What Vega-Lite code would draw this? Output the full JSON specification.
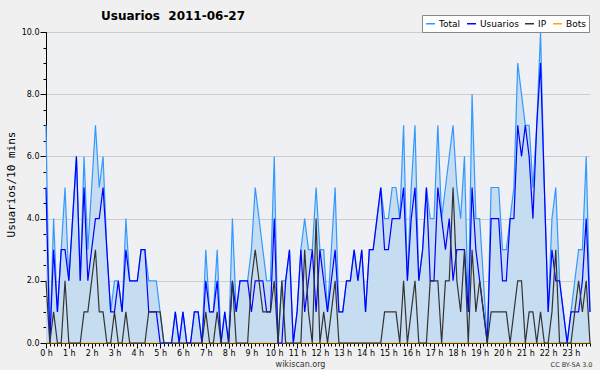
{
"$schema":"https://vega.github.io/schema/vega-lite/v6.json",
"width":544,"height":311,
"autosize":"none",
"padding":{"left":46,"top":32,"right":10,"bottom":27},
"background":"#f0f0f0",
"config":{"view":{"fill":"#eef0f3","stroke":null},"font":"DejaVu Sans"},
"title":{"text":"Usuarios \u00a02011-06-27","anchor":"start","frame":"group","dx":55,"dy":17,"offset":9,"fontSize":12,"font":"DejaVu Sans","fontWeight":"bold","color":"#000000"},
"data":{"values":[
{"m":0,"Total":7,"Usuarios":5,"IP":2,"Bots":0},
{"m":10,"Total":0,"Usuarios":0,"IP":0,"Bots":0},
{"m":20,"Total":4,"Usuarios":3,"IP":1,"Bots":0},
{"m":30,"Total":1,"Usuarios":1,"IP":0,"Bots":0},
{"m":40,"Total":3,"Usuarios":3,"IP":0,"Bots":0},
{"m":50,"Total":5,"Usuarios":3,"IP":2,"Bots":0},
{"m":60,"Total":2,"Usuarios":2,"IP":0,"Bots":0},
{"m":70,"Total":4,"Usuarios":4,"IP":0,"Bots":0},
{"m":80,"Total":6,"Usuarios":6,"IP":0,"Bots":0},
{"m":90,"Total":2,"Usuarios":2,"IP":0,"Bots":0},
{"m":100,"Total":6,"Usuarios":5,"IP":1,"Bots":0},
{"m":110,"Total":3,"Usuarios":2,"IP":1,"Bots":0},
{"m":120,"Total":5,"Usuarios":3,"IP":2,"Bots":0},
{"m":130,"Total":7,"Usuarios":4,"IP":3,"Bots":0},
{"m":140,"Total":5,"Usuarios":4,"IP":1,"Bots":0},
{"m":150,"Total":6,"Usuarios":5,"IP":1,"Bots":0},
{"m":160,"Total":3,"Usuarios":3,"IP":0,"Bots":0},
{"m":170,"Total":1,"Usuarios":1,"IP":0,"Bots":0},
{"m":180,"Total":2,"Usuarios":1,"IP":1,"Bots":0},
{"m":190,"Total":2,"Usuarios":2,"IP":0,"Bots":0},
{"m":200,"Total":1,"Usuarios":1,"IP":0,"Bots":0},
{"m":210,"Total":4,"Usuarios":3,"IP":1,"Bots":0},
{"m":220,"Total":2,"Usuarios":2,"IP":0,"Bots":0},
{"m":230,"Total":2,"Usuarios":2,"IP":0,"Bots":0},
{"m":240,"Total":2,"Usuarios":2,"IP":0,"Bots":0},
{"m":250,"Total":3,"Usuarios":3,"IP":0,"Bots":0},
{"m":260,"Total":3,"Usuarios":3,"IP":0,"Bots":0},
{"m":270,"Total":2,"Usuarios":1,"IP":1,"Bots":0},
{"m":280,"Total":2,"Usuarios":1,"IP":1,"Bots":0},
{"m":290,"Total":2,"Usuarios":1,"IP":1,"Bots":0},
{"m":300,"Total":1,"Usuarios":0,"IP":1,"Bots":0},
{"m":310,"Total":0,"Usuarios":0,"IP":0,"Bots":0},
{"m":320,"Total":0,"Usuarios":0,"IP":0,"Bots":0},
{"m":330,"Total":0,"Usuarios":0,"IP":0,"Bots":0},
{"m":340,"Total":1,"Usuarios":1,"IP":0,"Bots":0},
{"m":350,"Total":0,"Usuarios":0,"IP":0,"Bots":0},
{"m":360,"Total":1,"Usuarios":1,"IP":0,"Bots":0},
{"m":370,"Total":0,"Usuarios":0,"IP":0,"Bots":0},
{"m":380,"Total":0,"Usuarios":0,"IP":0,"Bots":0},
{"m":390,"Total":1,"Usuarios":1,"IP":0,"Bots":0},
{"m":400,"Total":1,"Usuarios":1,"IP":0,"Bots":0},
{"m":410,"Total":0,"Usuarios":0,"IP":0,"Bots":0},
{"m":420,"Total":3,"Usuarios":2,"IP":1,"Bots":0},
{"m":430,"Total":1,"Usuarios":1,"IP":0,"Bots":0},
{"m":440,"Total":1,"Usuarios":1,"IP":0,"Bots":0},
{"m":450,"Total":3,"Usuarios":2,"IP":1,"Bots":0},
{"m":460,"Total":0,"Usuarios":0,"IP":0,"Bots":0},
{"m":470,"Total":1,"Usuarios":1,"IP":0,"Bots":0},
{"m":480,"Total":0,"Usuarios":0,"IP":0,"Bots":0},
{"m":490,"Total":4,"Usuarios":2,"IP":2,"Bots":0},
{"m":500,"Total":1,"Usuarios":1,"IP":0,"Bots":0},
{"m":510,"Total":2,"Usuarios":2,"IP":0,"Bots":0},
{"m":520,"Total":2,"Usuarios":2,"IP":0,"Bots":0},
{"m":530,"Total":2,"Usuarios":2,"IP":0,"Bots":0},
{"m":540,"Total":3,"Usuarios":1,"IP":2,"Bots":0},
{"m":550,"Total":5,"Usuarios":2,"IP":3,"Bots":0},
{"m":560,"Total":4,"Usuarios":2,"IP":2,"Bots":0},
{"m":570,"Total":3,"Usuarios":2,"IP":1,"Bots":0},
{"m":580,"Total":2,"Usuarios":1,"IP":1,"Bots":0},
{"m":590,"Total":2,"Usuarios":1,"IP":1,"Bots":0},
{"m":600,"Total":6,"Usuarios":4,"IP":2,"Bots":0},
{"m":610,"Total":0,"Usuarios":0,"IP":0,"Bots":0},
{"m":620,"Total":2,"Usuarios":0,"IP":2,"Bots":0},
{"m":630,"Total":2,"Usuarios":2,"IP":0,"Bots":0},
{"m":640,"Total":3,"Usuarios":3,"IP":0,"Bots":0},
{"m":650,"Total":0,"Usuarios":0,"IP":0,"Bots":0},
{"m":660,"Total":1,"Usuarios":1,"IP":0,"Bots":0},
{"m":670,"Total":3,"Usuarios":3,"IP":0,"Bots":0},
{"m":680,"Total":4,"Usuarios":1,"IP":3,"Bots":0},
{"m":690,"Total":3,"Usuarios":2,"IP":1,"Bots":0},
{"m":700,"Total":3,"Usuarios":3,"IP":0,"Bots":0},
{"m":710,"Total":5,"Usuarios":1,"IP":4,"Bots":0},
{"m":720,"Total":3,"Usuarios":3,"IP":0,"Bots":0},
{"m":730,"Total":3,"Usuarios":2,"IP":1,"Bots":0},
{"m":740,"Total":1,"Usuarios":1,"IP":0,"Bots":0},
{"m":750,"Total":3,"Usuarios":2,"IP":1,"Bots":0},
{"m":760,"Total":5,"Usuarios":3,"IP":2,"Bots":0},
{"m":770,"Total":1,"Usuarios":1,"IP":0,"Bots":0},
{"m":780,"Total":1,"Usuarios":1,"IP":0,"Bots":0},
{"m":790,"Total":2,"Usuarios":2,"IP":0,"Bots":0},
{"m":800,"Total":2,"Usuarios":2,"IP":0,"Bots":0},
{"m":810,"Total":3,"Usuarios":3,"IP":0,"Bots":0},
{"m":820,"Total":2,"Usuarios":2,"IP":0,"Bots":0},
{"m":830,"Total":3,"Usuarios":3,"IP":0,"Bots":0},
{"m":840,"Total":1,"Usuarios":1,"IP":0,"Bots":0},
{"m":850,"Total":3,"Usuarios":3,"IP":0,"Bots":0},
{"m":860,"Total":3,"Usuarios":3,"IP":0,"Bots":0},
{"m":870,"Total":4,"Usuarios":4,"IP":0,"Bots":0},
{"m":880,"Total":5,"Usuarios":5,"IP":0,"Bots":0},
{"m":890,"Total":4,"Usuarios":3,"IP":1,"Bots":0},
{"m":900,"Total":4,"Usuarios":3,"IP":1,"Bots":0},
{"m":910,"Total":5,"Usuarios":4,"IP":1,"Bots":0},
{"m":920,"Total":5,"Usuarios":4,"IP":1,"Bots":0},
{"m":930,"Total":4,"Usuarios":4,"IP":0,"Bots":0},
{"m":940,"Total":7,"Usuarios":5,"IP":2,"Bots":0},
{"m":950,"Total":2,"Usuarios":2,"IP":0,"Bots":0},
{"m":960,"Total":5,"Usuarios":4,"IP":1,"Bots":0},
{"m":970,"Total":7,"Usuarios":5,"IP":2,"Bots":0},
{"m":980,"Total":2,"Usuarios":2,"IP":0,"Bots":0},
{"m":990,"Total":3,"Usuarios":3,"IP":0,"Bots":0},
{"m":1000,"Total":5,"Usuarios":5,"IP":0,"Bots":0},
{"m":1010,"Total":4,"Usuarios":2,"IP":2,"Bots":0},
{"m":1020,"Total":4,"Usuarios":2,"IP":2,"Bots":0},
{"m":1030,"Total":7,"Usuarios":5,"IP":2,"Bots":0},
{"m":1040,"Total":4,"Usuarios":4,"IP":0,"Bots":0},
{"m":1050,"Total":5,"Usuarios":3,"IP":2,"Bots":0},
{"m":1060,"Total":6,"Usuarios":4,"IP":2,"Bots":0},
{"m":1070,"Total":7,"Usuarios":2,"IP":5,"Bots":0},
{"m":1080,"Total":5,"Usuarios":3,"IP":2,"Bots":0},
{"m":1090,"Total":4,"Usuarios":3,"IP":1,"Bots":0},
{"m":1100,"Total":6,"Usuarios":3,"IP":3,"Bots":0},
{"m":1110,"Total":1,"Usuarios":1,"IP":0,"Bots":0},
{"m":1120,"Total":8,"Usuarios":5,"IP":3,"Bots":0},
{"m":1130,"Total":4,"Usuarios":3,"IP":1,"Bots":0},
{"m":1140,"Total":4,"Usuarios":2,"IP":2,"Bots":0},
{"m":1150,"Total":2,"Usuarios":1,"IP":1,"Bots":0},
{"m":1160,"Total":0,"Usuarios":0,"IP":0,"Bots":0},
{"m":1170,"Total":5,"Usuarios":4,"IP":1,"Bots":0},
{"m":1180,"Total":5,"Usuarios":4,"IP":1,"Bots":0},
{"m":1190,"Total":5,"Usuarios":4,"IP":1,"Bots":0},
{"m":1200,"Total":3,"Usuarios":2,"IP":1,"Bots":0},
{"m":1210,"Total":3,"Usuarios":2,"IP":1,"Bots":0},
{"m":1220,"Total":4,"Usuarios":4,"IP":0,"Bots":0},
{"m":1230,"Total":5,"Usuarios":4,"IP":1,"Bots":0},
{"m":1240,"Total":9,"Usuarios":7,"IP":2,"Bots":0},
{"m":1250,"Total":8,"Usuarios":6,"IP":2,"Bots":0},
{"m":1260,"Total":7,"Usuarios":7,"IP":0,"Bots":0},
{"m":1270,"Total":7,"Usuarios":6,"IP":1,"Bots":0},
{"m":1280,"Total":5,"Usuarios":4,"IP":1,"Bots":0},
{"m":1290,"Total":7,"Usuarios":7,"IP":0,"Bots":0},
{"m":1300,"Total":10,"Usuarios":9,"IP":1,"Bots":0},
{"m":1310,"Total":5,"Usuarios":5,"IP":0,"Bots":0},
{"m":1320,"Total":1,"Usuarios":1,"IP":0,"Bots":0},
{"m":1330,"Total":4,"Usuarios":3,"IP":1,"Bots":0},
{"m":1340,"Total":5,"Usuarios":2,"IP":3,"Bots":0},
{"m":1350,"Total":2,"Usuarios":2,"IP":0,"Bots":0},
{"m":1360,"Total":1,"Usuarios":1,"IP":0,"Bots":0},
{"m":1370,"Total":0,"Usuarios":0,"IP":0,"Bots":0},
{"m":1380,"Total":1,"Usuarios":1,"IP":0,"Bots":0},
{"m":1390,"Total":2,"Usuarios":1,"IP":1,"Bots":0},
{"m":1400,"Total":3,"Usuarios":1,"IP":2,"Bots":0},
{"m":1410,"Total":3,"Usuarios":2,"IP":1,"Bots":0},
{"m":1420,"Total":6,"Usuarios":4,"IP":2,"Bots":0},
{"m":1430,"Total":1,"Usuarios":1,"IP":0,"Bots":0}
]},
"resolve":{"axis":{"x":"independent","y":"independent"}},
"encoding":{
  "color":{"type":"nominal",
   "scale":{"domain":["Total","Usuarios","IP","Bots"],"range":["#3399ff","#0000ff","#333333","#ffa500"]},
   "legend":{"orient":"none","legendX":376,"legendY":-17,"direction":"horizontal","title":null,"symbolType":"stroke","symbolStrokeWidth":1.5,"symbolSize":80,"labelFontSize":9,"labelFont":"DejaVu Sans","labelColor":"#000000","fillColor":"#ffffff","strokeColor":"#888888","padding":3,"columnPadding":3,"labelOffset":3}}
},
"layer":[
{"mark":{"type":"area","color":"#c6dcf0","opacity":1},
 "encoding":{
  "color":null,
  "x":{"field":"m","type":"quantitative","scale":{"domain":[0,1430],"nice":false,"zero":false},
   "axis":{"orient":"bottom","tickCount":143,"labels":false,"domain":false,"grid":false,"ticks":true,"tickSize":3,"tickColor":"#000000","title":"CC BY-SA 3.0","titleFontSize":6.5,"titleFont":"DejaVu Sans","titleFontWeight":"normal","titleColor":"#333333","titleAlign":"right","titleBaseline":"alphabetic","titleX":546,"titleY":23,"titleAngle":0}},
  "y":{"field":"Total","type":"quantitative","scale":{"domain":[0,10],"nice":false},
   "axis":{"orient":"left","values":[0,0.5,1,1.5,2,2.5,3,3.5,4,4.5,5,5.5,6,6.5,7,7.5,8,8.5,9,9.5,10],"labels":false,"domain":false,"grid":false,"tickSize":3,"tickColor":"#000000","title":null}}
 }},
{"mark":{"type":"line","strokeWidth":0.8},
 "encoding":{
  "x":{"field":"m","type":"quantitative","scale":{"domain":[0,1430],"nice":false,"zero":false},
   "axis":{"orient":"bottom","values":[0,60,120,180,240,300,360,420,480,540,600,660,720,780,840,900,960,1020,1080,1140,1200,1260,1320,1380],"labelExpr":"floor(datum.value/60) + ' h'","labelAlign":"center","labelFlush":false,"labelOverlap":false,"labelFontSize":8,"labelFont":"DejaVu Sans","labelColor":"#000000","labelPadding":1,"tickSize":5,"tickColor":"#000000","domainColor":"#000000","grid":false,"title":"wikiscan.org","titleFontSize":8,"titleFont":"DejaVu Sans","titleFontWeight":"normal","titleColor":"#333333","titleX":254,"titleY":23,"titleAlign":"center","titleBaseline":"alphabetic"}},
  "y":{"field":"Bots","type":"quantitative","scale":{"domain":[0,10],"nice":false},
   "axis":{"orient":"left","values":[0,2,4,6,8,10],"format":".1f","labelFontSize":8,"labelFont":"DejaVu Sans","labelColor":"#000000","labelPadding":1,"tickSize":6,"tickColor":"#000000","domainColor":"#000000","grid":true,"gridColor":"#cccccc","title":"Usuarios/10 mins","titleFontSize":11,"titleFont":"DejaVu Sans Mono","titleFontWeight":"normal","titleColor":"#000000","titleAngle":-90,"titleX":-35,"titleY":152,"titleAlign":"center","titleBaseline":"middle"}},
  "color":{"datum":"Bots"}
 }},
{"mark":{"type":"line","strokeWidth":1.2},
 "encoding":{
  "x":{"field":"m","type":"quantitative","axis":null},
  "y":{"field":"Total","type":"quantitative","axis":null},
  "color":{"datum":"Total"}
 }},
{"mark":{"type":"line","strokeWidth":1.2},
 "encoding":{
  "x":{"field":"m","type":"quantitative","axis":null},
  "y":{"field":"Usuarios","type":"quantitative","axis":null},
  "color":{"datum":"Usuarios"}
 }},
{"mark":{"type":"line","strokeWidth":1.2},
 "encoding":{
  "x":{"field":"m","type":"quantitative","axis":null},
  "y":{"field":"IP","type":"quantitative","axis":null},
  "color":{"datum":"IP"}
 }}
]
}
